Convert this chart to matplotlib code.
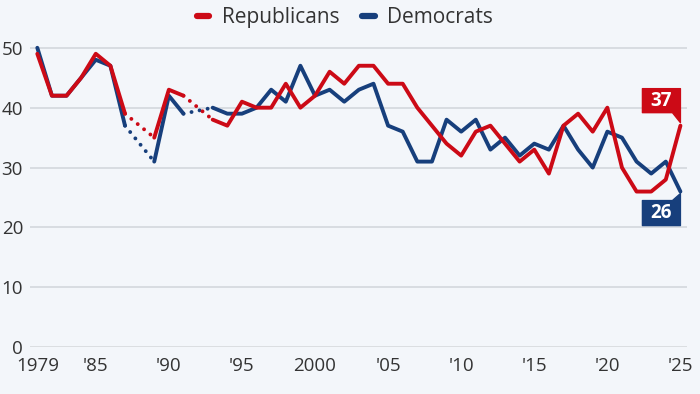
import numpy as np
import matplotlib
matplotlib.use("Agg")
import matplotlib.pyplot as plt
import matplotlib.transforms as mtransforms
from matplotlib.patches import Polygon
from matplotlib.lines import Line2D

# ---- data ----
years = [1979, 1981] + list(range(1983, 2026))
republicans = [49, 42, 42, 45, 49, 47, 39, np.nan, 35, 43, 42, np.nan, 38, 37, 41, 40, 40, 44, 40, 42,
               46, 44, 47, 47, 44, 44, 40, 37, 34, 32, 36, 37, 34, 31, 33, 29, 37, 39, 36, 40,
               30, 26, 26, 28, 37]
democrats = [50, 42, 42, 45, 48, 47, 37, np.nan, 31, 42, 39, np.nan, 40, 39, 39, 40, 43, 41, 47, 42,
             43, 41, 43, 44, 37, 36, 31, 31, 38, 36, 38, 33, 35, 32, 34, 33, 37, 33, 30, 36,
             35, 31, 29, 31, 26]
tick_years = [1979, 1985, 1990, 1995, 2000, 2005, 2010, 2015, 2020, 2025]
tick_labels = ["1979", "'85", "'90", "'95", "2000", "'05", "'10", "'15", "'20", "'25"]
y_ticks = [0, 10, 20, 30, 40, 50]
series_names = ["Republicans", "Democrats"]

RED = "#cc0a16"
BLUE = "#173f7c"
BG = "#f3f6fa"
TXT = "#333333"

plt.rcParams['font.family'] = ['Open Sans', 'DejaVu Sans']

fig = plt.figure(figsize=(7.0, 3.94), dpi=100, facecolor=BG)
ax = fig.add_axes([30/700, 1-347.3/394, 657/700, (347.3-35.8)/394])
ax.set_facecolor(BG)

x = np.arange(len(years))
ax.set_xlim(-0.5, 44.45)
ax.set_ylim(0, 52)

for s in ax.spines.values():
    s.set_visible(False)

for v in y_ticks[1:]:
    ax.axhline(v, color="#d3d7dc", lw=1.2, zorder=1)
ax.axhline(0, color="#3a3a3a", lw=0.9, zorder=2)

ax.set_yticks(y_ticks)
ax.set_yticklabels([str(v) for v in y_ticks])
ax.set_xticks([years.index(t) for t in tick_years])
ax.set_xticklabels(tick_labels)
ax.tick_params(axis='both', length=0, labelsize=13.5, colors=TXT)
ax.tick_params(axis='y', pad=5)
ax.tick_params(axis='x', pad=7)

def draw(vals, color, z):
    vals = np.array(vals, dtype=float)
    ax.plot(x, vals, color=color, lw=2.8, solid_joinstyle='round', solid_capstyle='round',
            zorder=z, clip_on=False)
    # dotted connectors across gaps
    valid = ~np.isnan(vals)
    i = 0
    n = len(vals)
    while i < n:
        if not valid[i]:
            j = i
            while j < n and not valid[j]:
                j += 1
            if i > 0 and j < n:
                ax.plot([x[i-1], x[j]], [vals[i-1], vals[j]], color=color, lw=2.8,
                        linestyle=(0, (0.01, 2.1)), dash_capstyle='round', zorder=z)
            i = j
        else:
            i += 1

draw(democrats, BLUE, 4)
draw(republicans, RED, 5)

# end labels
def end_label(xi, val, color, above):
    px = 1/100.0
    trans = fig.dpi_scale_trans + mtransforms.ScaledTranslation(x[xi], val, ax.transData)
    w = 38
    if above:
        b, t, tip = 13, 37, 3
        verts = [(-w, b), (-w, t), (0, t), (0, tip), (-8, b)]
        cy = (b + t) / 2
    else:
        t, b, tip = -9, -34, -2
        verts = [(-w, b), (0, b), (0, tip), (-8, t), (-w, t)]
        cy = (b + t) / 2
    verts = [(a*px, c*px) for a, c in verts]
    poly = Polygon(verts, closed=True, facecolor=color, edgecolor=color, lw=1,
                   joinstyle='round', transform=trans, clip_on=False, zorder=6)
    ax.add_patch(poly)
    ax.text(-w/2*px, cy*px, f"{val:g}", transform=trans, color="white", fontsize=13.5,
            fontweight='bold', ha='center', va='center', zorder=7)

end_label(len(years)-1, republicans[-1], RED, True)
end_label(len(years)-1, democrats[-1], BLUE, False)

# legend
handles = [Line2D([0], [0], color=RED, lw=4.5, solid_capstyle='round'),
           Line2D([0], [0], color=BLUE, lw=4.5, solid_capstyle='round')]
leg = fig.legend(handles, series_names, loc='upper center', bbox_to_anchor=(0.493, 1.03),
                 ncol=2, frameon=False, fontsize=15, handlelength=0.6, handletextpad=0.6,
                 columnspacing=1.1)
for t in leg.get_texts():
    t.set_color(TXT)

fig.savefig("out.png", dpi=100, facecolor=BG)
